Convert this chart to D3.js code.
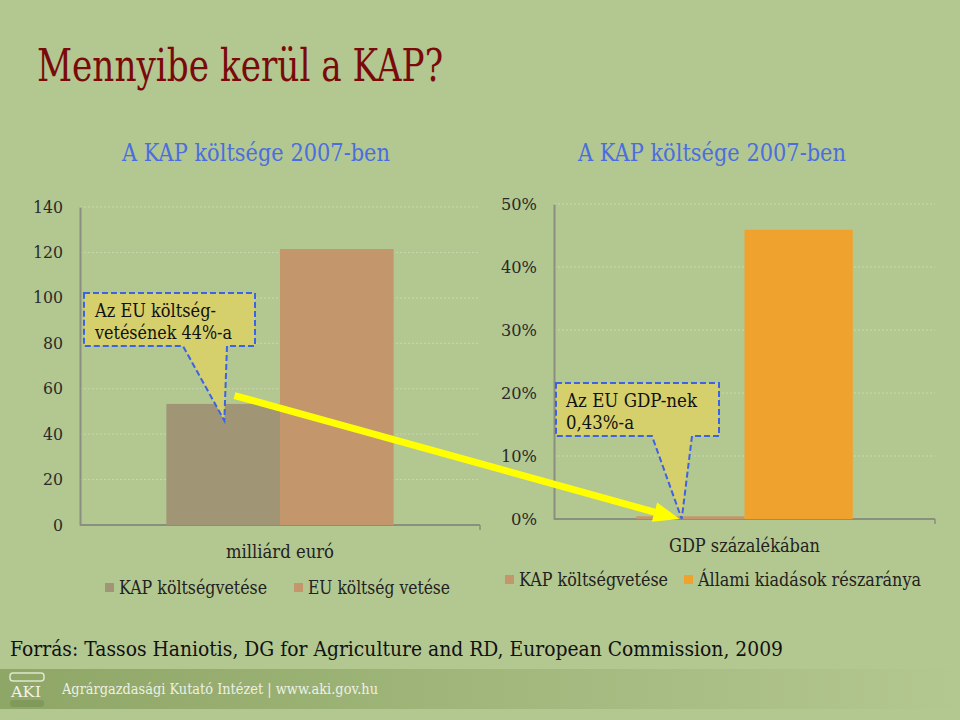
<!DOCTYPE html>
<html>
<head>
<meta charset="utf-8">
<script src="https://cdn.jsdelivr.net/npm/d3@7"></script>
<style>
  body { margin: 0; background: #b3c790; }
  svg text { font-family: "DejaVu Serif", "Liberation Serif", serif !important; }
</style>
</head>
<body>
<div id="chart"></div>
<script>
// data
const category = ["x"];
const leftSeries = ["KAP költségvetése", "EU költség vetése"];
const leftValues = [53.3, 121.5];
const leftTicks = [0, 20, 40, 60, 80, 100, 120, 140];
const rightSeries = ["KAP költségvetése", "Állami kiadások részaránya"];
const rightValues = [0.43, 45.9];
const rightTicks = [0, 10, 20, 30, 40, 50];
const leftColors = ["#a09574", "#c4966b"];
const rightColors = ["#c4966b", "#f0a22e"];

const width = 960;
const height = 720;

const svg = d3.select('#chart')
    .append('svg')
    .attr("width", width)
    .attr("height", height);

svg.append("rect").attr("width", width).attr("height", height).attr("fill", "#b3c790");

// text helper, squeezed to the width seen in the slide
function label(x, y, t, size, fill, w, anchor) {
    const el = svg.append("text").attr("x", x).attr("y", y).text(t)
        .attr("font-size", size).attr("fill", fill)
        .attr("text-anchor", anchor || "start");
    if (w) el.attr("textLength", w).attr("lengthAdjust", "spacingAndGlyphs");
    return el;
}

// footer band
const grad = svg.append("defs").append("linearGradient").attr("id", "foot");
grad.append("stop").attr("offset", "0%").attr("stop-color", "#8ea666");
grad.append("stop").attr("offset", "100%").attr("stop-color", "#b3c790");
svg.append("rect").attr("x", 0).attr("y", 669).attr("width", width).attr("height", 40).attr("fill", "url(#foot)");

label(37, 81, "Mennyibe kerül a KAP?", 44, "#7a0a0a", 406);
label(122, 161, "A KAP költsége 2007-ben", 25, "#4a6ee0", 268);
label(578, 161, "A KAP költsége 2007-ben", 25, "#4a6ee0", 268);

function drawPanel(opt) {
    const x0 = d3.scaleBand().domain(category).range([opt.x1, opt.x2]).paddingInner(0).paddingOuter(0.38);
    const xs = d3.scaleBand().domain(opt.series).range([0, x0.bandwidth()]);
    const y = d3.scaleLinear().domain([0, opt.max]).range([opt.y0, opt.y1]);
    const g = svg.append("g");

    // grid
    g.selectAll(".grid").data(opt.ticks.slice(1)).enter().append("line")
        .attr("x1", opt.x1).attr("x2", opt.x2)
        .attr("y1", d => y(d)).attr("y2", d => y(d))
        .attr("stroke", "#c9d9ad").attr("stroke-dasharray", "2,2");

    const ax = g.append("g").attr("transform", "translate(" + opt.x1 + ",0)")
        .call(d3.axisLeft(y).tickValues(opt.ticks).tickSize(0).tickPadding(opt.pad).tickFormat(opt.fmt));
    ax.attr("font-family", null);
    ax.select(".domain").attr("stroke", "#8a8f80").attr("stroke-width", 2);
    ax.selectAll("text").attr("font-size", 16).attr("fill", "#2a2a2a")
        .attr("textLength", d => opt.tw(d)).attr("lengthAdjust", "spacingAndGlyphs");

    g.append("line").attr("x1", opt.x1).attr("x2", opt.x2).attr("y1", opt.y0).attr("y2", opt.y0)
        .attr("stroke", "#8a8f80").attr("stroke-width", 2);
    g.append("line").attr("x1", opt.x2).attr("x2", opt.x2).attr("y1", opt.y0).attr("y2", opt.y0 + 5)
        .attr("stroke", "#8a8f80").attr("stroke-width", 1.5);

    g.selectAll(".bar").data(opt.values).enter().append("rect")
        .attr("x", (d, i) => x0(category[0]) + xs(opt.series[i]))
        .attr("width", xs.bandwidth())
        .attr("y", d => y(d))
        .attr("height", d => y(0) - y(d))
        .attr("fill", (d, i) => opt.colors[i]);

    label(opt.titleX, opt.titleY, opt.title, 18, "#222", opt.titleW);

    opt.series.forEach((s, i) => {
        svg.append("rect").attr("x", opt.legX[i]).attr("y", opt.legY - 11).attr("width", 9).attr("height", 9)
            .attr("fill", opt.colors[i]);
        label(opt.legX[i] + 14, opt.legY, s, 18, "#222", opt.legW[i]);
    });
    return { x0: x0, xs: xs, y: y };
}

const L = drawPanel({
    x1: 80, x2: 480, y0: 525, y1: 207, max: 140, ticks: leftTicks, pad: 17,
    fmt: d => d, tw: d => String(d).length * 10, series: leftSeries, values: leftValues, colors: leftColors,
    title: "milliárd euró", titleX: 226, titleY: 558, titleW: 108,
    legX: [105, 294], legY: 594, legW: [148, 142]
});
const R = drawPanel({
    x1: 554, x2: 935, y0: 519, y1: 204, max: 50, ticks: rightTicks, pad: 17,
    fmt: d => d + "%", tw: d => String(d).length * 10 + 16, series: rightSeries, values: rightValues, colors: rightColors,
    title: "GDP százalékában", titleX: 669, titleY: 552, titleW: 151,
    legX: [505, 684], legY: 586, legW: [149, 223]
});

// callouts
function callout(bx1, by1, bx2, by2, p1, p2, tipX, tipY, lines, widths, tx) {
    const path = "M" + bx1 + "," + by1 + "H" + bx2 + "V" + by2 + "H" + p2 +
        "L" + tipX + "," + tipY + "L" + p1 + "," + by2 + "H" + bx1 + "Z";
    svg.append("path").attr("d", path).attr("fill", "#d5cf6c")
        .attr("stroke", "#3c62e6").attr("stroke-width", 2).attr("stroke-dasharray", "6,3");
    lines.forEach((t, i) => {
        label(tx, by1 + 24 + i * 22, t, 18, "#111", widths[i]);
    });
}

const lBar = L.x0(category[0]) + L.xs(leftSeries[0]);
const rBar = R.x0(category[0]) + R.xs(rightSeries[0]);

// yellow arrow
const ax1 = lBar + L.xs.bandwidth() * 0.6, ay1 = L.y(57);
const ax2 = rBar + R.xs.bandwidth() * 0.4, ay2 = R.y(0);
const ang = Math.atan2(ay2 - ay1, ax2 - ax1);
const hl = 26, hw = 10;
const bxp = ax2 - hl * Math.cos(ang), byp = ay2 - hl * Math.sin(ang);
svg.append("line").attr("x1", ax1).attr("y1", ay1).attr("x2", bxp).attr("y2", byp)
    .attr("stroke", "#ffff00").attr("stroke-width", 7);
svg.append("path").attr("d", "M" + ax2 + "," + ay2 +
    "L" + (bxp + hw * Math.sin(ang)) + "," + (byp - hw * Math.cos(ang)) +
    "L" + (bxp - hw * Math.sin(ang)) + "," + (byp + hw * Math.cos(ang)) + "Z")
    .attr("fill", "#ffff00");

callout(84, 293, 255, 346, 183, 227, lBar + L.xs.bandwidth() * 0.51, L.y(46),
    ["Az EU költség-", "vetésének 44%-a"], [121, 137], 95);
callout(556, 383, 719, 436, 652, 692, rBar + R.xs.bandwidth() * 0.42, R.y(0),
    ["Az EU GDP-nek", "0,43%-a"], [131, 68], 566);

label(10, 656, "Forrás: Tassos Haniotis, DG for Agriculture and RD, European Commission, 2009",
    21, "#111", 773);

// footer logo + text
svg.append("rect").attr("x", 10).attr("y", 673).attr("width", 34).attr("height", 8).attr("fill", "none")
    .attr("stroke", "#dfe6d0").attr("stroke-width", 1.5).attr("rx", 3);
label(11, 697, "AKI", 14, "#f2f2ea", 30);
svg.append("rect").attr("x", 10).attr("y", 700).attr("width", 34).attr("height", 7).attr("fill", "#7f9a5a")
    .attr("rx", 3);
label(62, 694, "Agrárgazdasági Kutató Intézet | www.aki.gov.hu", 15, "#eef0e6", 316);
</script>
</body>
</html>
